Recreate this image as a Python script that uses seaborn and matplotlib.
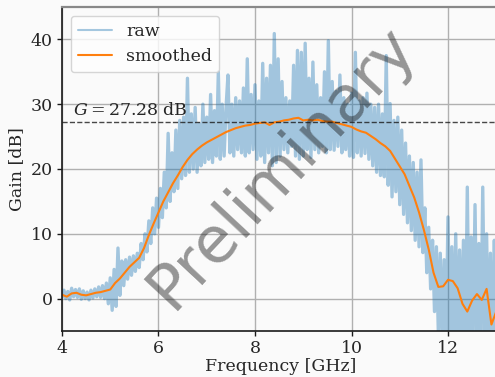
import numpy as np
import pandas as pd
import matplotlib
matplotlib.use("Agg")
import matplotlib.pyplot as plt
import seaborn as sns

# ---- data ----
raw_gain = [
    0.2, 1.3, 0.0, 1.1, -0.2, 1.6, 0.3, 1.4, 0.2, 1.5,
    -0.1, 1.2, 0.0, 1.0, -0.2, 1.3, 0.1, 1.5, 0.3, 1.8,
    0.2, 2.0, 0.0, 2.4, -0.8, 3.2, -1.8, 4.5, -1.2, 7.8,
    0.5, 5.8, 2.0, 6.0, 3.0, 6.4, 3.6, 6.6, 4.2, 7.0,
    4.8, 8.5, 6.0, 10.0, 7.2, 12.0, 8.5, 14.0, 10.0, 15.5,
    11.0, 17.0, 12.5, 19.5, 14.0, 25.5, 15.0, 22.5, 16.5, 26.0,
    17.0, 27.5, 18.5, 28.0, 19.0, 34.0, 19.5, 28.5, 20.0, 29.5,
    19.5, 27.0, 20.5, 30.0, 21.0, 28.0, 21.5, 31.5, 21.0, 29.0,
    22.0, 35.0, 21.5, 30.0, 22.0, 29.5, 34.5, 22.5, 30.0, 22.0,
    31.0, 23.0, 30.5, 22.5, 32.5, 22.0, 37.0, 22.5, 31.5, 23.0,
    33.0, 21.5, 30.5, 22.0, 36.3, 21.0, 34.0, 22.5, 36.0, 20.5,
    40.9, 21.0, 37.0, 22.0, 33.5, 23.0, 31.0, 22.5, 30.5, 23.5,
    36.0, 22.0, 38.3, 21.5, 38.0, 22.0, 39.4, 23.0, 34.0, 21.8,
    36.5, 23.0, 33.0, 22.5, 31.0, 23.5, 35.0, 22.5, 39.8, 23.0,
    33.5, 22.9, 32.0, 23.5, 34.5, 22.5, 31.0, 23.0, 30.0, 22.0,
    31.7, 21.8, 38.0, 22.5, 30.5, 22.0, 31.0, 22.4, 31.7, 21.5,
    30.0, 20.5, 29.5, 19.5, 30.0, 19.0, 28.5, 18.8, 37.5, 17.5,
    30.1, 15.7, 27.5, 16.5, 28.0, 14.5, 26.0, 13.0, 24.0, 11.7,
    22.0, 10.5, 21.0, 9.0, 19.5, 8.0, 21.4, 7.1, 14.0, 4.0,
    11.0, 1.5, 9.0, -2.0, 8.0, -5.5, 7.0, -7.0, 6.0, -6.0,
    12.6, -7.5, 8.0, -6.5, 10.0, -8.0, 7.5, -7.0, 9.0, -8.0,
    17.2, -7.5, 9.5, -6.5, 14.5, -7.0, 8.5, -8.0, 17.2, -6.0,
    10.0, -8.5, 7.0, -9.0, 9.0, -7.0,
]

smooth_gain = [
    0.6, 0.3, 0.8, 0.9, 0.6, 0.5, 0.7, 0.9, 1.0, 1.2,
    1.4, 2.4, 3.1, 4.0, 4.9, 5.6, 6.3, 7.8, 9.8, 11.6,
    13.3, 15.0, 16.4, 17.8, 19.0, 20.3, 21.4, 22.3, 23.0, 23.6,
    24.1, 24.5, 24.9, 25.3, 25.7, 26.0, 26.3, 26.5, 26.7, 26.8,
    27.0, 27.1, 27.2, 26.8, 27.2, 27.3, 27.5, 27.6, 27.8, 27.9,
    27.5, 27.6, 27.5, 27.6, 27.4, 27.3, 27.3, 27.1, 26.9, 26.7,
    26.5, 26.1, 25.8, 25.6, 25.1, 24.6, 24.0, 23.5, 22.8, 21.6,
    20.4, 19.2, 17.4, 15.6, 13.3, 10.6, 7.6, 4.0, 1.8, 1.9,
    2.9, 2.7, 1.6, -0.8, -2.0, -0.3, 0.7, -0.2, 1.5, -4.0,
    -2.0,
]

f_start, f_stop = 4.0, 13.0
raw_freq = np.linspace(f_start, f_stop, len(raw_gain))
smooth_freq = np.linspace(f_start, f_stop, len(smooth_gain))
G_mean = 27.28

x_ticks = [4, 6, 8, 10, 12]
y_ticks = [0, 10, 20, 30, 40]

raw_df = pd.DataFrame({"Frequency": raw_freq, "Gain": raw_gain})
smooth_df = pd.DataFrame({"Frequency": smooth_freq, "Gain": smooth_gain})

# ---- style ----
sns.set_theme(style="whitegrid")
plt.rcParams["font.family"] = ["DejaVu Serif"]
plt.rcParams["mathtext.fontset"] = "dejavuserif"

bg = "#fafafa"
fig = plt.figure(figsize=(4.95, 3.77), dpi=100, facecolor=bg)
W, H = 495, 377
ax = fig.add_axes([62 / W, (H - 331) / H, 9.08 * 48.25 / W, 324 / H])
ax.set_facecolor(bg)

sns.lineplot(data=raw_df, x="Frequency", y="Gain", ax=ax, color="#1f77b4",
             alpha=0.4, lw=2.4, label="raw", estimator=None, sort=False)
sns.lineplot(data=smooth_df, x="Frequency", y="Gain", ax=ax, color="#ff7f0e",
             lw=1.5, label="smoothed", estimator=None, sort=False)

ax.axhline(G_mean, color="k", ls="--", lw=1.0, alpha=0.8)
ax.text(4.22, G_mean + 0.5, f"$G = {G_mean:.2f}$ dB", fontsize=12.5,
        ha="left", va="bottom")

ax.set_xlim(4, 13.08)
ax.set_ylim(-5, 45)
ax.set_xticks(x_ticks)
ax.set_yticks(y_ticks)
ax.set_xlabel("Frequency [GHz]", fontsize=12.5, labelpad=1)
ax.set_ylabel("Gain [dB]", fontsize=12.5)
ax.tick_params(axis="both", labelsize=12.5, length=3.5, width=1, color="k",
               left=True, bottom=True, pad=3)
ax.grid(True, color="#b0b0b0", lw=1.0)

for s in ["left", "bottom"]:
    ax.spines[s].set_color("k")
    ax.spines[s].set_linewidth(1.2)
ax.spines["top"].set_color("#888888")
ax.spines["top"].set_linewidth(1.6)
ax.spines["right"].set_visible(False)

leg = ax.legend(loc="upper left", fontsize=12.5, frameon=True, fancybox=True,
                framealpha=0.8, edgecolor="#cccccc", borderaxespad=0.5)
leg.get_frame().set_facecolor("white")
for line in leg.get_lines():
    line.set_linewidth(1.5)

ax.text(0.503, 0.505, "Preliminary", transform=ax.transAxes, fontsize=46,
        family="DejaVu Sans", color="k", alpha=0.45, rotation=47,
        ha="center", va="center")

fig.savefig("out.png", dpi=100, facecolor=bg)
